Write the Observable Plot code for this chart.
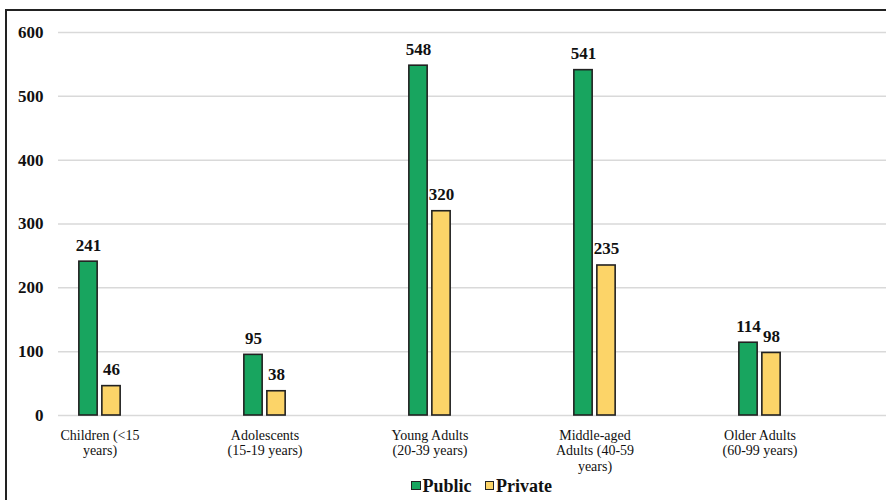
<!DOCTYPE html>
<html>
<head>
<meta charset="utf-8">
<script src="https://cdn.jsdelivr.net/npm/d3@7"></script>
<script src="https://cdn.jsdelivr.net/npm/@observablehq/plot@0.6"></script>
<style>
  html, body { margin: 0; padding: 0; background: #fff; overflow: hidden; }
  #wrap { position: relative; width: 886px; height: 500px; font-family: "Liberation Serif", "Times New Roman", serif; }
  #chart { position: absolute; left: 0; top: 0; }
  #border { position: absolute; left: 5px; top: 9px; width: 1000px; height: 600px;
            border-left: 2.5px solid #222; border-top: 2.5px solid #222; pointer-events: none; }
  #legend { position: absolute; left: 411px; top: 476px; height: 20px; display: flex; align-items: center;
            font-weight: bold; font-size: 18px; line-height: 20px; color: #111; }
  #legend .sw { width: 7.5px; height: 7.5px; border: 1.2px solid #222; margin-right: 2px; position: relative; top: -0.5px; }
  #legend .item { display: flex; align-items: center; margin-right: 13px; }
</style>
</head>
<body>
<div id="wrap">
  <div id="chart"></div>
  <div id="legend"></div>
  <div id="border"></div>
</div>
<script>
// Age groups (line breaks as shown under the axis)
const categories = [
  "Children (<15\nyears)",
  "Adolescents\n(15-19 years)",
  "Young Adults\n(20-39 years)",
  "Middle-aged\nAdults (40-59\nyears)",
  "Older Adults\n(60-99 years)"
];
const seriesNames = ["Public", "Private"];
const publicCounts = [241, 95, 548, 541, 114];
const privateCounts = [46, 38, 320, 235, 98];
const yTicks = [0, 100, 200, 300, 400, 500, 600];

const colors = {Public: "#18a55f", Private: "#fcd468"};

const publicRows = categories.map((group, i) => ({group, series: "Public", value: publicCounts[i]}));
const privateRows = categories.map((group, i) => ({group, series: "Private", value: privateCounts[i]}));

// Layout of each category band: two bars side by side with a small gap
const xRange = [17, 842.5];
const step = (xRange[1] - xRange[0]) / categories.length;
const barWidth = 20;
const barGap = 3;
const strokeW = 1.6;
const half = step / 2;
const pubInset = {insetLeft: half - barGap / 2 - barWidth + strokeW / 2, insetRight: half + barGap / 2 + strokeW / 2};
const privInset = {insetLeft: half + barGap / 2 + strokeW / 2, insetRight: half - barGap / 2 - barWidth + strokeW / 2};
const offset = barGap / 2 + barWidth / 2;

const labelStyle = {fontWeight: "bold", fontSize: 17, fill: "#111", lineAnchor: "bottom", dy: -11};

const chart = Plot.plot({
  width: 886,
  height: 478,
  marginTop: 32,
  marginBottom: 63,
  marginLeft: 58,
  marginRight: 0,
  style: {fontFamily: "'Liberation Serif', 'Times New Roman', serif", fontSize: "14px", color: "#111", background: "transparent"},
  x: {type: "band", domain: categories, range: xRange, padding: 0, label: null},
  y: {domain: [0, 600], label: null},
  marks: [
    Plot.gridY({ticks: yTicks, stroke: "#d9d9d9", strokeOpacity: 1, strokeWidth: 1.5}),
    Plot.axisY({ticks: yTicks, tickSize: 0, tickPadding: 15, fontWeight: "bold", fontSize: 17, label: null}),
    Plot.axisX({tickSize: 0, tickPadding: 13, fontSize: 14, lineHeight: 1.11, label: null}),
    Plot.barY(publicRows, {x: "group", y: "value", fill: colors.Public, stroke: "#222", strokeWidth: strokeW, ...pubInset}),
    Plot.barY(privateRows, {x: "group", y: "value", fill: colors.Private, stroke: "#222", strokeWidth: strokeW, ...privInset}),
    Plot.text(publicRows, {x: "group", y: "value", text: d => String(d.value), dx: -offset, ...labelStyle}),
    Plot.text(privateRows, {x: "group", y: "value", text: d => String(d.value), dx: offset, ...labelStyle})
  ]
});
document.getElementById("chart").appendChild(chart);

// Legend below the chart
const legend = document.getElementById("legend");
for (const name of seriesNames) {
  const item = document.createElement("span");
  item.className = "item";
  const sw = document.createElement("span");
  sw.className = "sw";
  sw.style.background = colors[name];
  const label = document.createElement("span");
  label.textContent = name;
  item.appendChild(sw);
  item.appendChild(label);
  legend.appendChild(item);
}
</script>
</body>
</html>
